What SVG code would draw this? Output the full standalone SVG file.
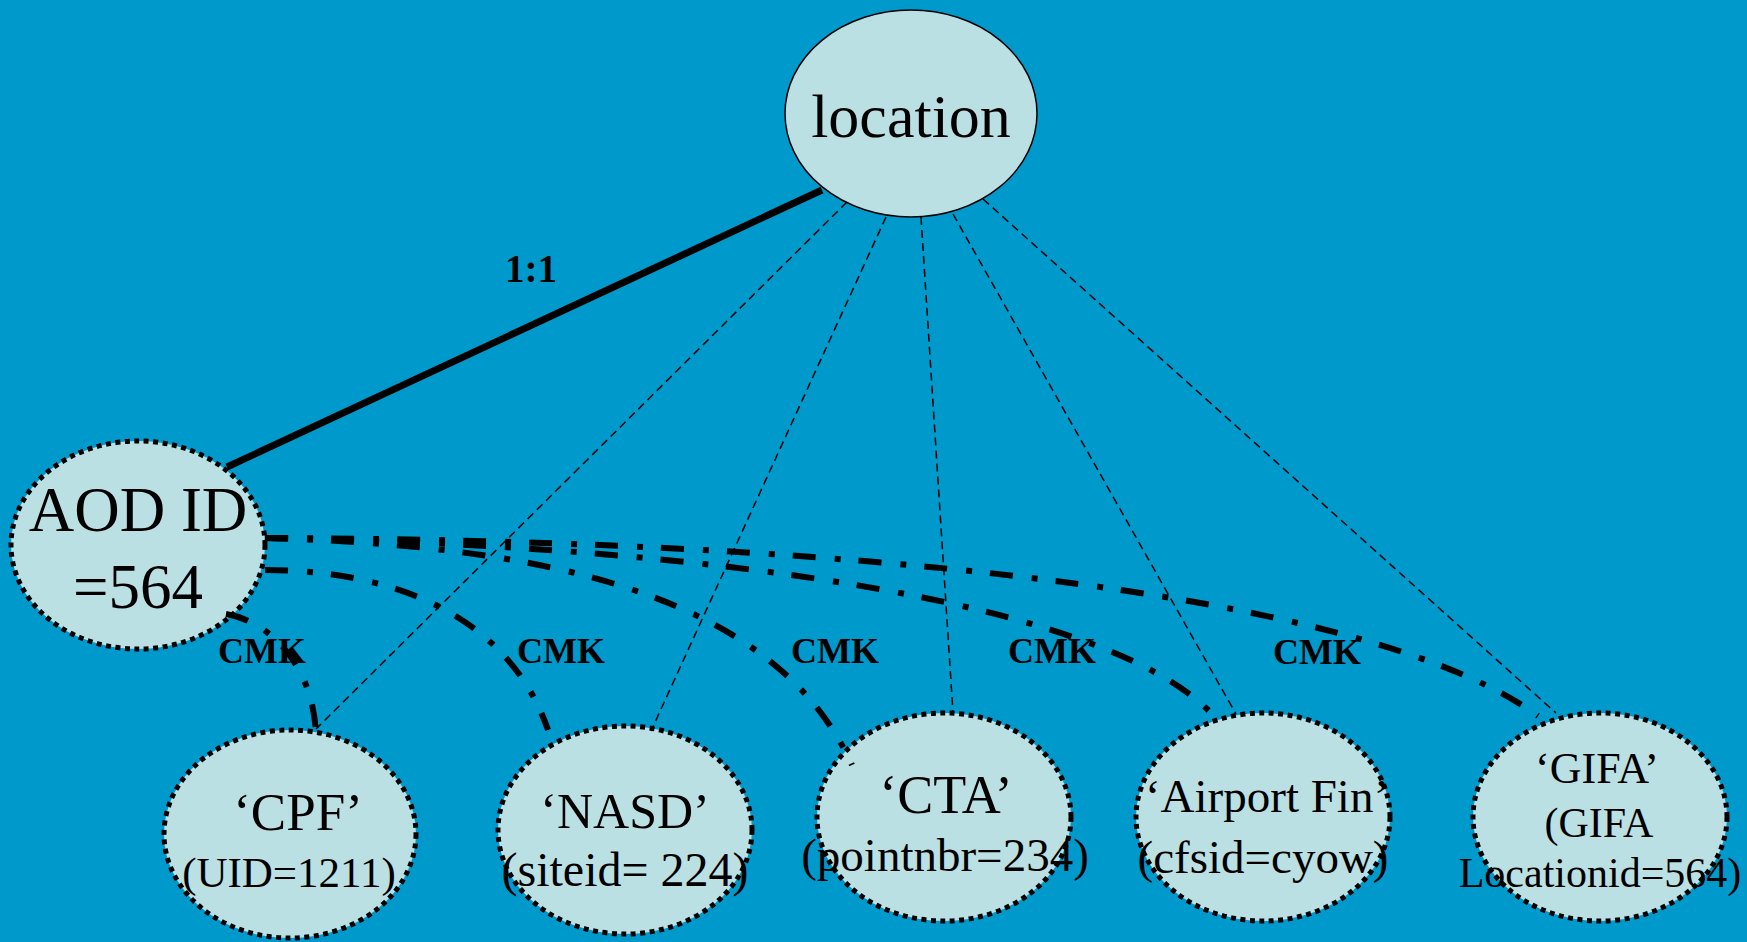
<svg xmlns="http://www.w3.org/2000/svg" width="1747" height="942" viewBox="0 0 1747 942">
<style>
.bg{fill:#0099cc}
.node{fill:#bbe0e3;stroke:#000;stroke-width:5;stroke-dasharray:5 4.5}
.top{fill:#bbe0e3;stroke:#000;stroke-width:1.5}
.t{font-family:"Liberation Serif","Times New Roman",serif;fill:#000;text-anchor:middle}
.lbl{font-family:"Liberation Serif","Times New Roman",serif;font-weight:bold;fill:#000;text-anchor:middle}
.thin{fill:none;stroke:#000;stroke-width:1.5;stroke-dasharray:8 5}
.dd{fill:none;stroke:#000;stroke-width:6;stroke-dasharray:23 19 6 18}
.solid{fill:none;stroke:#000;stroke-width:7}
</style>
<rect class="bg" x="0" y="0" width="1747" height="942"/>
<g id="location">
<ellipse class="top" cx="911" cy="113.5" rx="126" ry="103.5"/>
<text class="t" x="911" y="137" font-size="62">location</text>
</g>
<g id="aod">
<ellipse class="node" cx="138" cy="545" rx="127" ry="104"/>
<text class="t" x="138" y="531" font-size="63">AOD ID</text>
<text class="t" x="138" y="608" font-size="63">=564</text>
</g>
<g id="cpf">
<ellipse class="node" cx="290" cy="834" rx="126" ry="104"/>
<text class="t" x="298" y="830" font-size="53">‘CPF’</text>
<text class="t" x="289" y="887" font-size="43">(UID=1211)</text>
</g>
<g id="nasd">
<ellipse class="node" cx="625" cy="830" rx="127" ry="104"/>
<text class="t" x="625" y="828" font-size="50">‘NASD’</text>
<text class="t" x="625" y="886" font-size="48">(siteid= 224)</text>
</g>
<g id="cta">
<ellipse class="node" cx="944" cy="817" rx="127" ry="104"/>
<text class="t" x="946" y="813" font-size="54">‘CTA’</text>
<text class="t" x="945" y="871" font-size="47">(pointnbr=234)</text>
</g>
<g id="airport">
<ellipse class="node" cx="1263" cy="817" rx="127" ry="104"/>
<text class="t" x="1267" y="812" font-size="47">‘Airport Fin’</text>
<text class="t" x="1263" y="873" font-size="47">(cfsid=cyow)</text>
</g>
<g id="gifa">
<ellipse class="node" cx="1600" cy="817" rx="127" ry="104"/>
<text class="t" x="1597" y="783" font-size="44">‘GIFA’</text>
<text class="t" x="1599" y="837" font-size="42">(GIFA</text>
<text class="t" x="1600" y="887" font-size="42">Locationid=564)</text>
</g>
<g id="connectors">
<line class="solid" x1="227" y1="467" x2="822" y2="190"/>
<line class="thin" x1="847" y1="202" x2="316" y2="729"/>
<line class="thin" x1="886" y1="217" x2="651" y2="731"/>
<line class="thin" x1="921" y1="217" x2="953" y2="713"/>
<line class="thin" x1="953" y1="214" x2="1236" y2="714"/>
<line class="thin" x1="983" y1="199" x2="1556" y2="713"/>
<path class="dd" d="M226,614 C265,620 312,660 316,733"/>
<path class="dd" d="M265,570 C400,570 510,620 548,730"/>
<path class="dd" d="M265,538 C520,545 770,585 852,765"/>
<path class="dd" d="M265,538 C700,545 1100,600 1210,712"/>
<path class="dd" d="M265,538 C900,540 1380,600 1538,716"/>
</g>
<g id="labels">
<text class="lbl" x="531" y="282" font-size="39">1:1</text>
<text class="lbl" x="262" y="663" font-size="36">CMK</text>
<text class="lbl" x="561" y="663" font-size="36">CMK</text>
<text class="lbl" x="835" y="663" font-size="36">CMK</text>
<text class="lbl" x="1052" y="663" font-size="36">CMK</text>
<text class="lbl" x="1317" y="664" font-size="36">CMK</text>
</g>
</svg>
